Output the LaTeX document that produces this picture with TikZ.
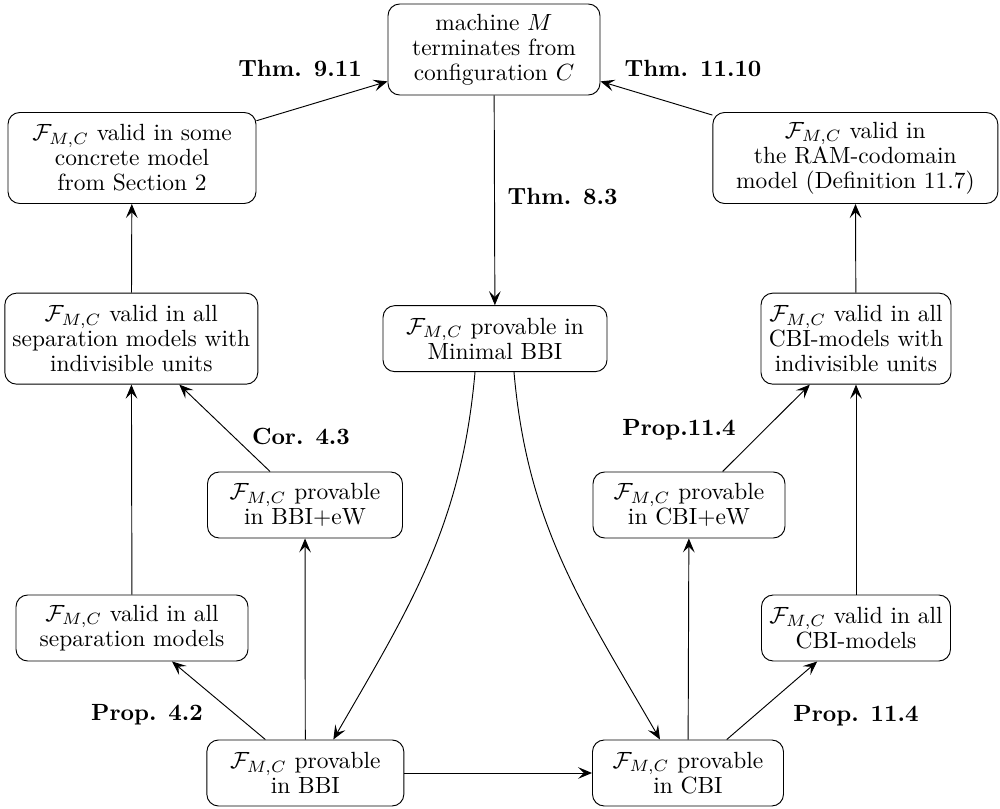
\documentclass[tikz,border=0pt]{standalone}
\usepackage{amsmath}
\usepackage{tikz}
\usetikzlibrary{arrows.meta, positioning}

\begin{document}
\begin{tikzpicture}[
      every node/.style={font=\fontsize{10}{10.7}\selectfont},
      box/.style={draw, rounded corners=5pt, align=center, inner xsep=3pt, inner ysep=3pt},
      tall/.style={box, minimum height=1.365cm},
      flat/.style={box, minimum height=0.99cm},
      thm/.style={font=\fontsize{10}{10.7}\selectfont\bfseries},
      >={Stealth[length=6pt, width=5pt, inset=2.5pt]}
    ]
      \useasboundingbox (0,0) rectangle (15,-12.135);

      \node[tall, minimum width=3.18cm] (term) at (7.41,-0.7425) {machine $M$\\terminates from\\configuration $C$};
      \node[tall, minimum width=3.72cm] (concrete) at (1.98,-2.37) {$\mathcal{F}_{M,C}$ valid in some\\concrete model\\from Section 2};
      \node[tall, minimum width=4.275cm] (ram) at (12.83,-2.37) {$\mathcal{F}_{M,C}$ valid in\\the RAM-codomain\\model (Definition 11.7)};
      \node[tall, minimum width=3.795cm] (sepind) at (1.97,-5.08) {$\mathcal{F}_{M,C}$ valid in all\\separation models with\\indivisible units};
      \node[flat, minimum width=3.36cm] (minbbi) at (7.425,-5.08) {$\mathcal{F}_{M,C}$ provable in\\Minimal BBI};
      \node[tall, minimum width=2.85cm] (cbiind) at (12.84,-5.08) {$\mathcal{F}_{M,C}$ valid in all\\CBI-models with\\indivisible units};
      \node[flat, minimum width=2.925cm] (bbiew) at (4.575,-7.575) {$\mathcal{F}_{M,C}$ provable\\in BBI+eW};
      \node[flat, minimum width=2.88cm] (cbiew) at (10.335,-7.575) {$\mathcal{F}_{M,C}$ provable\\in CBI+eW};
      \node[flat, minimum width=3.48cm] (sep) at (1.98,-9.42) {$\mathcal{F}_{M,C}$ valid in all\\separation models};
      \node[flat, minimum width=2.835cm] (cbim) at (12.84,-9.42) {$\mathcal{F}_{M,C}$ valid in all\\CBI-models};
      \node[flat, minimum width=2.955cm] (bbi) at (4.58,-11.595) {$\mathcal{F}_{M,C}$ provable\\in BBI};
      \node[flat, minimum width=2.865cm] (cbi) at (10.32,-11.595) {$\mathcal{F}_{M,C}$ provable\\in CBI};

      \node[thm] (t911) at (4.5,-1.03) {Thm. 9.11};
      \node[thm] (t1110) at (10.395,-1.03) {Thm. 11.10};
      \node[thm] (t83) at (8.44,-2.955) {Thm. 8.3};
      \node[thm] (c43) at (4.515,-6.54) {Cor. 4.3};
      \node[thm] (p114a) at (10.185,-6.45) {Prop.11.4};
      \node[thm] (p42) at (2.205,-10.725) {Prop. 4.2};
      \node[thm] (p114b) at (12.84,-10.74) {Prop. 11.4};

      \draw[->] (concrete) -- (term);
      \draw[->] (ram) -- (term);
      \draw[->] (term) -- (minbbi);
      \draw[->] ([xshift=-0.3cm]minbbi.south) to[out=-95, in=60] ([xshift=0.42cm]bbi.north);
      \draw[->] ([xshift=0.285cm]minbbi.south) to[out=-85, in=120] ([xshift=-0.42cm]cbi.north);
      \draw[->] (bbi) -- (cbi);
      \draw[->] (bbi) -- (sep);
      \draw[->] (bbi) -- (bbiew);
      \draw[->] (sep) -- (sepind);
      \draw[->] (bbiew) -- (sepind);
      \draw[->] (sepind) -- (concrete);
      \draw[->] (cbi) -- (cbim);
      \draw[->] (cbi) -- (cbiew);
      \draw[->] (cbim) -- (cbiind);
      \draw[->] (cbiew) -- (cbiind);
      \draw[->] (cbiind) -- (ram);
    \end{tikzpicture}
\end{document}
